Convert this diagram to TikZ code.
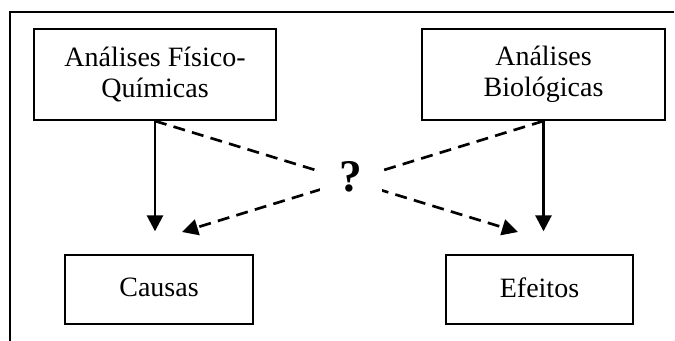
\documentclass[tikz,border=0pt]{standalone}
\usepackage{fontspec}
\setmainfont{Liberation Serif}
\usetikzlibrary{arrows.meta}

\begin{document}
\begin{tikzpicture}[x=0.75pt,y=0.75pt,yscale=-1,xscale=1,
	caixa/.style={draw,line width=1.5pt,align=center,inner sep=0pt,font=\fontsize{21}{23}\selectfont},
	seta/.style={line width=2pt,-{Triangle[length=12pt,width=12pt]}},
	tracejada/.style={line width=2pt,dash pattern={on 9pt off 5.5pt},-{Triangle[length=12pt,width=12pt]}}]
	\useasboundingbox (0,0) rectangle (675,341);
	
	%Straight Lines: frame
	\draw [line width=1.5pt] (674,12) -- (10,12) -- (10,341) ;
	
	%Shape: Rectangle
	\node [caixa,minimum width=181.5pt,minimum height=68.25pt] (fq) at (155,74.5) {Análises Físico-\\Químicas};
	%Shape: Rectangle
	\node [caixa,minimum width=182.25pt,minimum height=68.25pt] (bio) at (543.5,74.5) {Análises\\Biológicas};
	%Shape: Rectangle
	\node [caixa,minimum width=141pt,minimum height=51.75pt] (causas) at (159,289.5) {\raisebox{3pt}{Causas}};
	%Shape: Rectangle
	\node [caixa,minimum width=140.25pt,minimum height=51.75pt] (efeitos) at (539.5,289.5) {\raisebox{3pt}{Efeitos}};
	
	\coordinate (pe) at (518,232);
	\coordinate (pc) at (182,232);
	
	%Straight Lines
	\draw [seta,shorten >=17pt] (fq.south) -- (fq.south |- causas.north) ;
	\draw [seta,shorten >=17pt] (bio.south) -- (bio.south |- efeitos.north) ;
	%Straight Lines
	\draw [tracejada] (fq.south) -- (pe) ;
	\draw [tracejada] (bio.south) -- (pc) ;
	
	% Text Node
	\node [fill=white,inner sep=0pt,minimum width=46.5pt,minimum height=26pt,font=\fontsize{34}{36}\selectfont\bfseries] (q) at (351,177) {?};
	
\end{tikzpicture}
\end{document}
